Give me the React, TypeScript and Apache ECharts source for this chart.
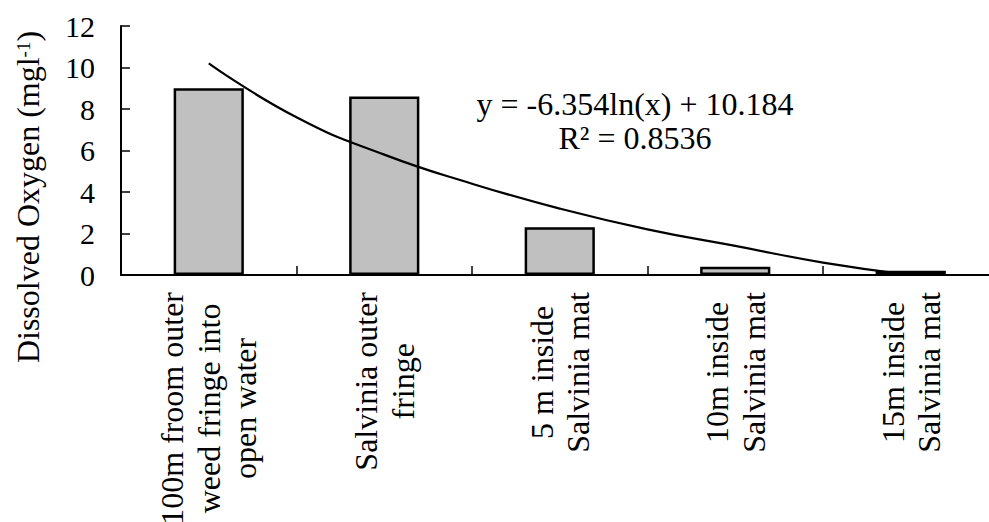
import React, { useEffect, useRef } from "react";
import * as echarts from "echarts";

const categories = [
  "100m froom outer\nweed fringe into\nopen water",
  "Salvinia outer\nfringe",
  "5 m inside\nSalvinia mat",
  "10m inside\nSalvinia mat",
  "15m inside\nSalvinia mat",
];
const oxygenValues = [9.0, 8.6, 2.3, 0.4, 0.2];
// trend line (x = category position, 1-based)
const trendX = [1, 1.5, 2, 2.5, 3, 3.5, 4, 4.5, 5];
const trendY = [10.2, 7.6, 5.8, 4.4, 3.2, 2.2, 1.4, 0.6, 0.0];
const yTicks = { min: 0, max: 12, interval: 2 };
const equationText = "y = -6.354ln(x) + 10.184\nR² = 0.8536";
const yTitle = "Dissolved Oxygen (mgl";
const yTitleSup = "-1";

const FONT = "'Times New Roman', 'Liberation Serif', serif";

export default function App() {
  const ref = useRef<HTMLDivElement>(null);
  useEffect(() => {
    if (!ref.current) return;
    const chart = echarts.init(ref.current, undefined, { renderer: "svg" });
    chart.setOption({
      animation: false,
      backgroundColor: "#ffffff",
      grid: {
        left: 121,
        top: 26,
        width: 877.5,
        bottom: 247,
        containLabel: false,
        outerBoundsMode: "none",
      },
      xAxis: [
        {
          type: "category",
          data: categories,
          axisLine: { show: true, lineStyle: { color: "#000", width: 2 } },
          axisTick: { show: true, inside: true, length: 9, lineStyle: { color: "#000", width: 1.5 } },
          axisLabel: {
            interval: 0,
            rotate: 90,
            margin: 17,
            color: "#000",
            fontFamily: FONT,
            fontSize: 32,
            hideOverlap: false,
            formatter: (v: string) => v.split("\n").map((l) => `{c|${l}}`).join("\n"),
            rich: { c: { align: "center", fontSize: 32, lineHeight: 36.5, fontFamily: FONT, color: "#000" } },
          },
          splitLine: { show: false },
        },
        {
          type: "value",
          min: 0.5,
          max: 5.5,
          show: false,
        },
      ],
      yAxis: {
        type: "value",
        min: yTicks.min,
        max: yTicks.max,
        interval: yTicks.interval,
        axisLine: { show: true, lineStyle: { color: "#000", width: 2 } },
        axisTick: { show: true, inside: true, length: 9, lineStyle: { color: "#000", width: 1.5 } },
        axisLabel: { color: "#000", fontFamily: FONT, fontSize: 30, margin: 26 },
        splitLine: { show: false },
      },
      series: [
        {
          type: "bar",
          data: oxygenValues,
          xAxisIndex: 0,
          barWidth: "40%",
          itemStyle: { color: "#c0c0c0", borderColor: "#000", borderWidth: 2.5 },
          z: 2,
        },
        {
          type: "line",
          xAxisIndex: 1,
          data: trendX.map((x, i) => [x, trendY[i]]),
          smooth: true,
          showSymbol: false,
          symbol: "none",
          lineStyle: { color: "#000", width: 2.2 },
          z: 3,
        },
      ],
      graphic: [
        {
          type: "text",
          x: 635,
          y: 121,
          style: {
            text: equationText,
            fontFamily: FONT,
            fontSize: 32,
            lineHeight: 34,
            fill: "#000",
            align: "center",
            verticalAlign: "middle",
          },
        },
        {
          type: "text",
          x: 28,
          y: 197,
          rotation: Math.PI / 2,
          style: {
            text: `{n|${yTitle}}{s|${yTitleSup}}{n|)}`,
            align: "center",
            verticalAlign: "middle",
            rich: {
              n: { fontFamily: FONT, fontSize: 32, lineHeight: 36, fill: "#000" },
              s: { fontFamily: FONT, fontSize: 19, lineHeight: 19, verticalAlign: "top", fill: "#000", padding: [4, 0, 0, 0] },
            },
          },
        },
      ],
    });
    return () => chart.dispose();
  }, []);
  return (
    <div
      ref={ref}
      style={{ position: "fixed", left: 0, top: 0, width: 989, height: 522, background: "#fff" }}
    />
  );
}
